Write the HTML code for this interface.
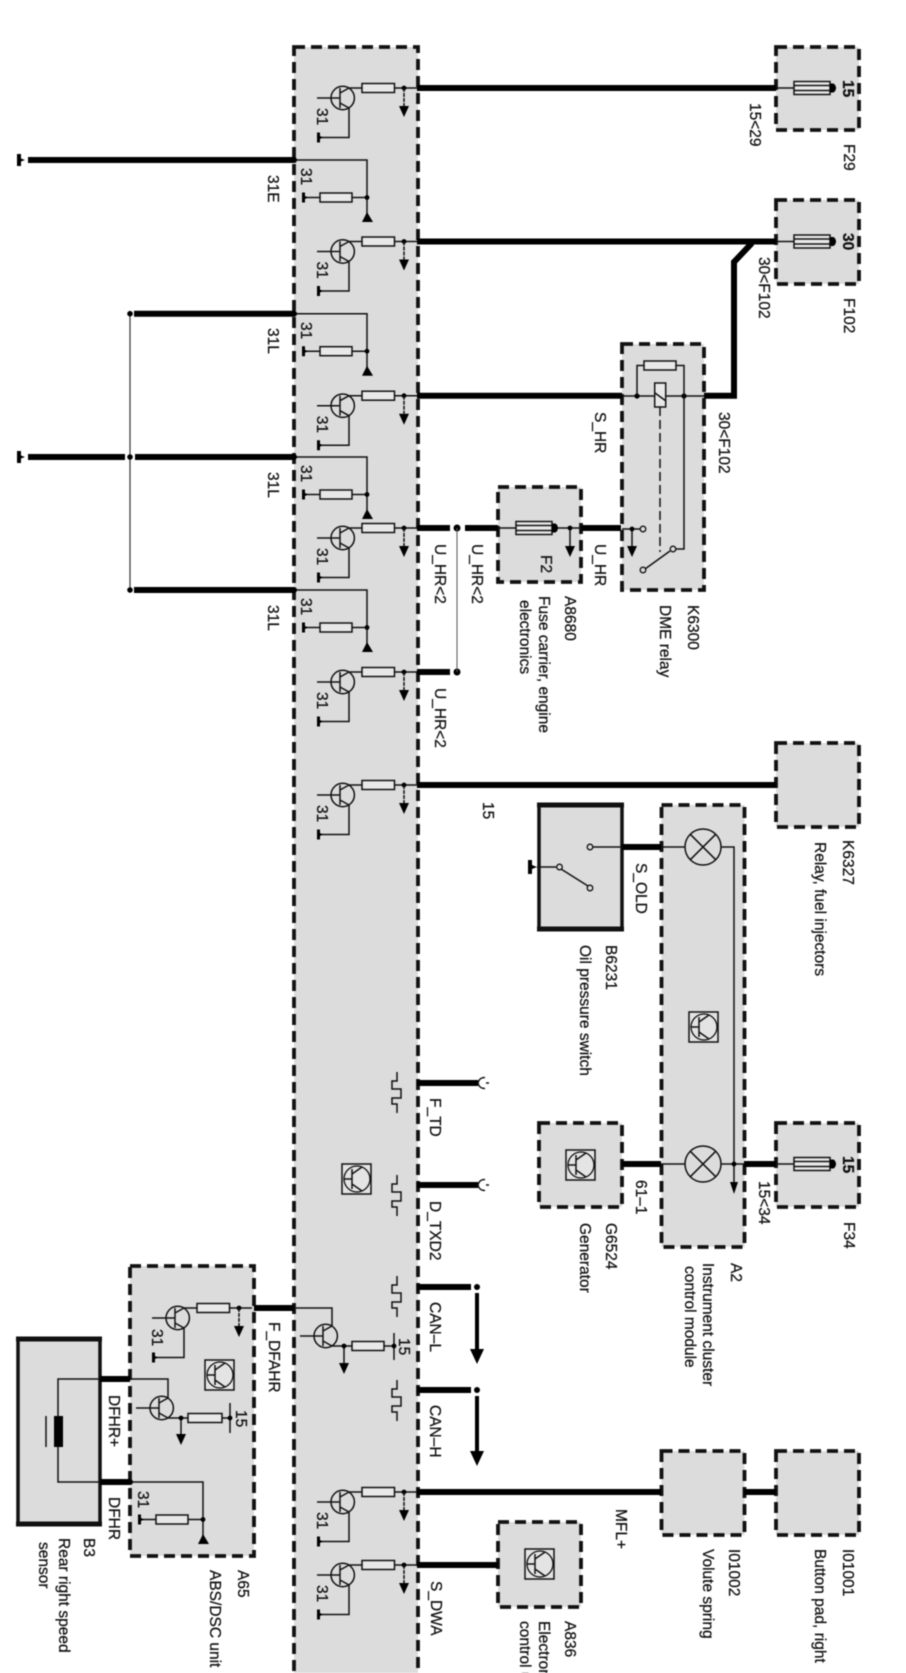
<!DOCTYPE html>
<html>
<head>
<meta charset="utf-8">
<style>
html,body{margin:0;padding:0;background:#fff}
svg{display:block;filter:blur(0.4px)}
text{font-family:"Liberation Sans",sans-serif;font-size:15.5px;fill:#111;stroke:#111;stroke-width:.25}
.b{font-weight:bold}
.box{fill:#dcdcdc;stroke:#111;stroke-width:3.8;stroke-dasharray:11 6}
.th{stroke:#000;stroke-width:6;fill:none}
.w{stroke:#111;stroke-width:1.5;fill:none}
.r{fill:#e8e8e8;stroke:#111;stroke-width:1.5}
</style>
</head>
<body>
<svg width="906" height="1673" viewBox="0 0 906 1673" xmlns="http://www.w3.org/2000/svg">
<defs>
<g id="tr">
  <circle cx="342.7" cy="10" r="11.7" fill="none" stroke="#111" stroke-width="1.5"/>
  <path class="w" d="M340 0V20M317 10H340M340 5L349 0M340 15L349 20"/>
</g>
<g id="T">
  <path class="w" d="M417 0H349"/>
  <circle cx="404" cy="0" r="2.4" fill="#000"/>
  <rect class="r" x="362" y="-4.5" width="32.500" height="9"/>
  <path class="w" d="M404 0V18" stroke-dasharray="4 1"/>
  <path d="M399 18H409L404 29Z" fill="#000"/>
  <use href="#tr"/>
  <path class="w" d="M349 20V49.500H321"/>
  <path d="M317 44.500H320V48L323 49.500L320 51V54.500H317Z" fill="#000"/>
</g>
<g id="G">
  <path class="w" d="M294 0H367V55M367 37.500H352M320 37.500H306"/>
  <circle cx="294" cy="0" r="3" fill="#000"/>
  <circle cx="367" cy="37.500" r="2.400" fill="#000"/>
  <rect class="r" x="320" y="33" width="32" height="9"/>
  <path d="M367 52L373 62H362Z" fill="#000"/>
  <path d="M302 32.500H305V36L308 37.500L305 39V42.500H302Z" fill="#000"/>
</g>
<g id="fuse">
  <path class="w" d="M0 0H18"/>
  <rect class="r" x="18" y="-6.500" width="36" height="13" stroke-width="1.800"/>
  <path class="w" d="M18 -2.500H54M18 2.500H54" stroke-width="1"/>
  <path d="M54 -4.500H57C58.500 -4.500 60 -2 60 0C60 2 58.500 4.500 57 4.500H54Z" fill="#000"/>
</g>
<g id="ecu">
  <rect x="0" y="0" width="29" height="30" fill="#e4e4e4" stroke="#111" stroke-width="1.500"/>
  <circle cx="15" cy="15" r="13" fill="none" stroke="#111" stroke-width="1.300"/>
  <path class="w" d="M2 15H10M10 5V25M10 10L20 3M10 20L20 27"/>
</g>
<g id="wave">
  <path class="w" d="M397 0V9H392V17H401V26H392V32H397V41"/>
</g>
<g id="lamp">
  <circle cx="0" cy="0" r="18" fill="none" stroke="#111" stroke-width="1.500"/>
  <path class="w" d="M-12.700 -12.700L12.700 12.700M-12.700 12.700L12.700 -12.700"/>
</g>
<g id="fork">
  <path class="w" d="M478 0C479 -4 481 -5.500 485 -5.500M478 0C479 4 481 5.500 485 5.500M486 0H489" stroke-width="2"/>
</g>
</defs>

<!-- boxes -->
<rect class="box" x="294" y="47" width="124" height="1640"/>
<rect class="box" x="776" y="47" width="83" height="83"/>
<rect class="box" x="776" y="200" width="83" height="84"/>
<rect class="box" x="622" y="344" width="82" height="246"/>
<rect class="box" x="498" y="487" width="83" height="95"/>
<rect class="box" x="776" y="743" width="83" height="84"/>
<rect class="box" x="661.500" y="805" width="83" height="442"/>
<rect x="539" y="805" width="83" height="124" fill="#dcdcdc" stroke="#111" stroke-width="3.500"/>
<rect class="box" x="539" y="1123" width="83" height="84"/>
<rect class="box" x="776" y="1123" width="83" height="84"/>
<rect class="box" x="130" y="1266" width="124" height="290"/>
<rect x="18" y="1339" width="82" height="185" fill="#dcdcdc" stroke="#111" stroke-width="3.500"/>
<path d="M16 1339H102M16 1524H102" stroke="#111" stroke-width="5" fill="none"/>
<path d="M537 805H624M537 929H624" stroke="#111" stroke-width="5" fill="none"/>
<rect class="box" x="661.500" y="1451" width="83" height="84"/>
<rect class="box" x="776" y="1451" width="83" height="84"/>
<rect class="box" x="498" y="1522" width="83" height="85"/>

<!-- transistor units -->
<use href="#T" transform="translate(0,88)"/>
<use href="#T" transform="translate(0,241.500)"/>
<use href="#T" transform="translate(0,395.700)"/>
<use href="#T" transform="translate(0,528)"/>
<use href="#T" transform="translate(0,672)"/>
<use href="#T" transform="translate(0,785)"/>
<use href="#T" transform="translate(0,1492)"/>
<use href="#T" transform="translate(0,1565)"/>
<use href="#T" transform="translate(-165,1308)"/>

<!-- ground units -->
<use href="#G" transform="translate(0,160)"/>
<use href="#G" transform="translate(0,313.700)"/>
<use href="#G" transform="translate(0,457)"/>
<use href="#G" transform="translate(0,590)"/>
<use href="#G" transform="translate(-164,1482)"/>

<!-- thick 31 lines -->
<path class="th" d="M28 160H294M134 313.700H294M28 457H125M135 457H294M134 590H294"/>
<path d="M17 154H21V158.500L25 160L21 161.500V166H17Z" fill="#000"/>
<path d="M17 451H21V455.500L25 457L21 458.500V463H17Z" fill="#000"/>
<path d="M130 313.700V590" stroke="#333" stroke-width="1.200" fill="none"/>
<circle cx="130" cy="313.700" r="2.800" fill="#000"/>
<circle cx="130" cy="457" r="2.800" fill="#000"/>
<circle cx="130" cy="590" r="2.800" fill="#000"/>

<!-- thick top wires -->
<path class="th" d="M417 88H776M417 241.500H776M417 395.700H622M704 395.700H734V262L752 243"/>
<use href="#fuse" transform="translate(776,88)"/>
<use href="#fuse" transform="translate(776,241.500)"/>

<!-- relay -->
<path class="w" d="M622 396H704"/>
<circle cx="637" cy="396" r="2.600" fill="#000"/>
<circle cx="684" cy="396" r="2.600" fill="#000"/>
<path class="w" d="M637 396V365.500H644M676 365.500H684V549H676"/>
<rect class="r" x="644" y="361" width="32" height="9"/>
<rect class="r" x="654.700" y="383" width="11" height="24"/>
<path class="w" d="M655 393L666 401"/>
<path class="w" d="M660 407V552" stroke-dasharray="9 4"/>
<path class="w" d="M670 551L645 569"/>
<circle cx="673" cy="549" r="2.800" fill="#dcdcdc" stroke="#111" stroke-width="1.300"/>
<circle cx="643" cy="570" r="2.800" fill="#dcdcdc" stroke="#111" stroke-width="1.300"/>
<circle cx="643" cy="529" r="2.800" fill="#dcdcdc" stroke="#111" stroke-width="1.300"/>
<path class="w" d="M622 529H640M632 529V547"/>
<circle cx="632" cy="529" r="2.400" fill="#000"/>
<path d="M627 546H637L632 557Z" fill="#000"/>

<!-- U_HR -->
<path class="th" d="M417 528H450M465 528H498M581 528H621M417 672H450"/>
<circle cx="457" cy="528" r="3.500" fill="#000"/>
<circle cx="457" cy="672" r="3.500" fill="#000"/>
<path d="M457 528V672" stroke="#555" stroke-width="1" fill="none"/>
<use href="#fuse" transform="translate(498,528)"/>
<path class="w" d="M558 528H581M570 528V547"/>
<circle cx="570" cy="528" r="2.400" fill="#000"/>
<path d="M565 546H575L570 557Z" fill="#000"/>

<!-- K6327 -->
<path class="th" d="M417 785H776"/>

<!-- B6231 + lamps -->
<path class="th" d="M622 847H661M622 1164H661M744 1164H776"/>
<path class="w" d="M593 847H622M661 847H685M721 847H734V1185M661 1164H685M721 1164H744M556 867H537"/>
<use href="#lamp" transform="translate(703,847)"/>
<use href="#lamp" transform="translate(703,1164)"/>
<circle cx="734" cy="1164" r="2.400" fill="#000"/>
<path d="M730 1182H738L734 1194Z" fill="#000"/>
<circle cx="590" cy="847" r="2.800" fill="#dcdcdc" stroke="#111" stroke-width="1.300"/>
<circle cx="590" cy="888" r="2.800" fill="#dcdcdc" stroke="#111" stroke-width="1.300"/>
<circle cx="559.500" cy="867" r="2.800" fill="#dcdcdc" stroke="#111" stroke-width="1.300"/>
<path class="w" d="M561 869L588 886"/>
<path d="M528 860H532V865L537 867L532 869V874H528Z" fill="#000"/>
<use href="#fuse" transform="translate(776,1164)"/>

<!-- ECU symbols -->
<use href="#ecu" transform="translate(342,1164)"/>
<use href="#ecu" transform="translate(689,1012)"/>
<use href="#ecu" transform="translate(566,1150)"/>
<use href="#ecu" transform="translate(205,1360)"/>
<use href="#ecu" transform="translate(525,1549)"/>

<!-- bus stubs -->
<path class="th" d="M417 1083H478M417 1185H478M417 1287H471M417 1390H471"/>
<use href="#fork" transform="translate(0,1083)"/>
<use href="#fork" transform="translate(0,1185)"/>
<use href="#wave" transform="translate(0,1072)"/>
<use href="#wave" transform="translate(0,1175)"/>
<use href="#wave" transform="translate(0,1276)"/>
<use href="#wave" transform="translate(0,1380)"/>
<circle cx="477" cy="1287" r="3" fill="#000"/>
<circle cx="477" cy="1390" r="3" fill="#000"/>
<path d="M477 1293V1350M477 1396V1452" stroke="#000" stroke-width="4" fill="none"/>
<path d="M470 1349H484L477 1364Z" fill="#000"/>
<path d="M470 1451H484L477 1466Z" fill="#000"/>

<!-- F_DFAHR -->
<path class="th" d="M254 1308H294"/>
<path class="w" d="M294 1308H332V1326"/>
<use href="#tr" transform="translate(-17,1326)"/>
<path class="w" d="M332 1346H352M384 1346H394M344 1346V1364M394 1333V1360"/>
<circle cx="344" cy="1346" r="2.400" fill="#000"/>
<rect class="r" x="352" y="1341.500" width="32" height="9"/>
<circle cx="394" cy="1346" r="2.400" fill="#000"/>
<path d="M339 1363H349L344 1374Z" fill="#000"/>

<!-- DFHR+ / DFHR -->
<path class="th" d="M100 1379H130M100 1482H130"/>
<path class="w" d="M130 1379H168V1398M100 1379H58V1482H100"/>
<use href="#tr" transform="translate(-181,1398)"/>
<path class="w" d="M168 1418H188M222 1418H230M181 1418V1435M230 1403V1433"/>
<circle cx="181" cy="1418" r="2.400" fill="#000"/>
<rect class="r" x="188" y="1413.500" width="34" height="9"/>
<circle cx="230" cy="1418" r="2.400" fill="#000"/>
<path d="M176 1434H186L181 1445Z" fill="#000"/>
<rect x="54" y="1416" width="9" height="31" fill="#000"/>
<path class="w" d="M46 1416V1447"/>

<!-- MFL, DWA -->
<path class="th" d="M417 1492H661M744 1492H776M417 1565H498"/>

<!-- text -->
<text transform="translate(317,108) rotate(90)">31</text>
<text transform="translate(317,261.500) rotate(90)">31</text>
<text transform="translate(317,415.700) rotate(90)">31</text>
<text transform="translate(317,548) rotate(90)">31</text>
<text transform="translate(317,692) rotate(90)">31</text>
<text transform="translate(317,805) rotate(90)">31</text>
<text transform="translate(317,1512) rotate(90)">31</text>
<text transform="translate(317,1585) rotate(90)">31</text>
<text transform="translate(152,1329) rotate(90)">31</text>
<text transform="translate(301,168) rotate(90)">31</text>
<text transform="translate(301,322) rotate(90)">31</text>
<text transform="translate(301,465) rotate(90)">31</text>
<text transform="translate(301,598) rotate(90)">31</text>
<text transform="translate(138,1491) rotate(90)">31</text>

<text transform="translate(268,175) rotate(90)">31E</text>
<text transform="translate(268,328) rotate(90)">31L</text>
<text transform="translate(268,472) rotate(90)">31L</text>
<text transform="translate(268,605) rotate(90)">31L</text>

<text class="b" transform="translate(843,80) rotate(90)">15</text>
<text class="b" transform="translate(843,233) rotate(90)">30</text>
<text class="b" transform="translate(843,1156) rotate(90)">15</text>
<text transform="translate(844,144) rotate(90)">F29</text>
<text transform="translate(844,298) rotate(90)">F102</text>
<text transform="translate(844,1222) rotate(90)">F34</text>
<text transform="translate(750,103) rotate(90)">15&lt;29</text>
<text transform="translate(759,257) rotate(90)">30&lt;F102</text>
<text transform="translate(719,412) rotate(90)">30&lt;F102</text>
<text transform="translate(595,412) rotate(90)">S_HR</text>
<text transform="translate(595,544) rotate(90)">U_HR</text>
<text transform="translate(435,544) rotate(90)">U_HR&lt;2</text>
<text transform="translate(472,544) rotate(90)">U_HR&lt;2</text>
<text transform="translate(435,688) rotate(90)">U_HR&lt;2</text>
<text transform="translate(541,555) rotate(90)">F2</text>
<text transform="translate(565,596) rotate(90)">A8680</text>
<text transform="translate(539,596) rotate(90)">Fuse carrier, engine</text>
<text transform="translate(520,600) rotate(90)">electronics</text>
<text transform="translate(688,605) rotate(90)">K6300</text>
<text transform="translate(660,605) rotate(90)">DME relay</text>
<text transform="translate(483,802) rotate(90)">15</text>
<text transform="translate(843,840) rotate(90)">K6327</text>
<text transform="translate(815,842) rotate(90)">Relay, fuel injectors</text>
<text transform="translate(636,863) rotate(90)">S_OLD</text>
<text transform="translate(606,945) rotate(90)">B6231</text>
<text transform="translate(580,945) rotate(90)">Oil pressure switch</text>
<text transform="translate(636,1180) rotate(90)">61–1</text>
<text transform="translate(759,1181) rotate(90)">15&lt;34</text>
<text transform="translate(606,1223) rotate(90)">G6524</text>
<text transform="translate(580,1223) rotate(90)">Generator</text>
<text transform="translate(731,1263) rotate(90)">A2</text>
<text transform="translate(703,1263) rotate(90)">Instrument cluster</text>
<text transform="translate(685,1266) rotate(90)">control module</text>
<text transform="translate(430,1098) rotate(90)">F_TD</text>
<text transform="translate(430,1201) rotate(90)">D_TXD2</text>
<text transform="translate(430,1302) rotate(90)">CAN–L</text>
<text transform="translate(430,1405) rotate(90)">CAN–H</text>
<text transform="translate(269,1322) rotate(90)">F_DFAHR</text>
<text transform="translate(399,1338) rotate(90)">15</text>
<text transform="translate(236,1410) rotate(90)">15</text>
<text transform="translate(109,1395) rotate(90)">DFHR+</text>
<text transform="translate(109,1497) rotate(90)">DFHR</text>
<text transform="translate(84,1538) rotate(90)">B3</text>
<text transform="translate(59,1538) rotate(90)">Rear right speed</text>
<text transform="translate(39,1542) rotate(90)">sensor</text>
<text transform="translate(238,1570) rotate(90)">A65</text>
<text transform="translate(210,1570) rotate(90)">ABS/DSC unit</text>
<text transform="translate(616,1509) rotate(90)">MFL+</text>
<text transform="translate(729,1549) rotate(90)">I01002</text>
<text transform="translate(703,1549) rotate(90)">Volute spring</text>
<text transform="translate(843,1549) rotate(90)">I01001</text>
<text transform="translate(815,1549) rotate(90)">Button pad, right</text>
<text transform="translate(431,1581) rotate(90)">S_DWA</text>
<text transform="translate(565,1621) rotate(90)">A836</text>
<text transform="translate(539,1621) rotate(90)">Electronic</text>
<text transform="translate(520,1621) rotate(90)">control unit</text>
</svg>
</body>
</html>
